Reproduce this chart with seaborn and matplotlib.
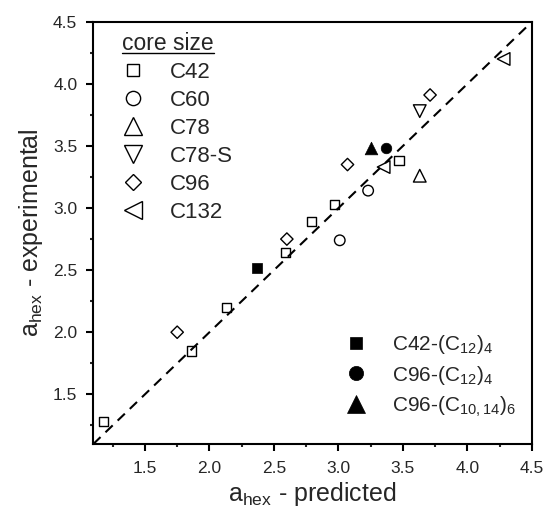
import matplotlib
matplotlib.use("Agg")
import matplotlib.pyplot as plt
from matplotlib.lines import Line2D
from matplotlib.ticker import MultipleLocator
import pandas as pd
import seaborn as sns

# open symbols: core sizes (predicted, experimental)
c42_pred = [1.18, 1.86, 2.13, 2.59, 2.79, 2.97, 3.47]
c42_exp = [1.28, 1.85, 2.20, 2.64, 2.89, 3.03, 3.38]
c60_pred = [3.01, 3.23]
c60_exp = [2.74, 3.14]
c78_pred = [3.63]
c78_exp = [3.26]
c78s_pred = [3.63]
c78s_exp = [3.78]
c96_pred = [1.75, 2.60, 3.07, 3.71]
c96_exp = [2.00, 2.75, 3.35, 3.91]
c132_pred = [3.35, 4.28]
c132_exp = [3.33, 4.20]

# filled symbols: substituted compounds
c42_c12_pred, c42_c12_exp = [2.37], [2.52]
c96_c12_pred, c96_c12_exp = [3.37], [3.48]
c96_c1014_pred, c96_c1014_exp = [3.25], [3.48]

core_labels = ["C42", "C60", "C78", "C78-S", "C96", "C132"]
filled_labels = [r"C42-(C$_\mathregular{12}$)$_\mathregular{4}$",
                 r"C96-(C$_\mathregular{12}$)$_\mathregular{4}$",
                 r"C96-(C$_\mathregular{10,14}$)$_\mathregular{6}$"]

sns.set_style("ticks")
plt.rcParams["font.family"] = ["Liberation Sans", "DejaVu Sans"]
plt.rcParams["mathtext.fontset"] = "custom"
plt.rcParams["mathtext.rm"] = "Liberation Sans"

open_series = [
    (c42_pred, c42_exp, "s", 6.7),
    (c60_pred, c60_exp, "o", 7.6),
    (c78_pred, c78_exp, "^", 9.1),
    (c78s_pred, c78s_exp, "v", 9.1),
    (c96_pred, c96_exp, "D", 6.3),
    (c132_pred, c132_exp, "<", 9.1),
]
filled_series = [
    (c42_c12_pred, c42_c12_exp, "s", 6.7),
    (c96_c12_pred, c96_c12_exp, "o", 7.6),
    (c96_c1014_pred, c96_c1014_exp, "^", 9.1),
]

fig = plt.figure(figsize=(5.48, 5.12), dpi=100)
ax = fig.add_axes([0.1703, 0.1328, 0.8005, 0.8248])

lim = (1.1, 4.5)
ax.plot(lim, lim, color="black", lw=1.5, ls=(0, (4.8, 3.3)), zorder=1)

for px, py, m, ms in open_series:
    df = pd.DataFrame({"pred": px, "exp": py})
    sns.scatterplot(data=df, x="pred", y="exp", marker=m, s=ms ** 2,
                    facecolors="none", edgecolor="black", linewidth=1.0,
                    ax=ax, zorder=3)
for px, py, m, ms in filled_series:
    df = pd.DataFrame({"pred": px, "exp": py})
    sns.scatterplot(data=df, x="pred", y="exp", marker=m, s=ms ** 2,
                    color="black", edgecolor="black", linewidth=0.5,
                    ax=ax, zorder=3)

ax.set_xlim(lim)
ax.set_ylim(lim)
ax.xaxis.set_major_locator(MultipleLocator(0.5))
ax.yaxis.set_major_locator(MultipleLocator(0.5))
ax.xaxis.set_minor_locator(MultipleLocator(0.25))
ax.yaxis.set_minor_locator(MultipleLocator(0.25))
ax.tick_params(which="major", direction="out", length=5, width=1.5,
               labelsize=12.5, color="black")
ax.tick_params(axis="x", which="major", pad=7)
ax.tick_params(axis="y", which="major", pad=6.5)
ax.tick_params(which="minor", direction="out", length=2.5, width=1.5)
for sp in ax.spines.values():
    sp.set_linewidth(1.5)
    sp.set_color("black")

ax.set_xlabel(r"a$_\mathregular{hex}$ - predicted", fontsize=18, labelpad=3)
ax.set_ylabel(r"a$_\mathregular{hex}$ - experimental", fontsize=18, labelpad=6)

scale = 1.35
h1 = [Line2D([], [], ls="none", marker=m, ms=ms * scale, mfc="none",
             mec="black", mew=1.0) for _, _, m, ms in open_series]
leg1 = ax.legend(h1, core_labels, title="core size", loc="upper left",
                 bbox_to_anchor=(0.066, 0.975), frameon=False, fontsize=16,
                 title_fontsize=16.5, handlelength=1.0, handletextpad=1.16,
                 labelspacing=0.31, borderpad=0, borderaxespad=0,
                 alignment="left")
ax.add_artist(leg1)

h2 = [Line2D([], [], ls="none", marker=m, ms=ms * scale, mfc="black",
             mec="black", mew=0.5) for _, _, m, ms in filled_series]
ax.legend(h2, filled_labels, loc="upper left", bbox_to_anchor=(0.575, 0.263),
          frameon=False, fontsize=15, handlelength=1.0, handletextpad=1.23,
          labelspacing=0.37, borderpad=0, borderaxespad=0)

# underline the legend title
fig.canvas.draw()
bb = leg1.get_title().get_window_extent()
inv = fig.transFigure.inverted()
(x0, y0), (x1, _) = inv.transform([(bb.x0, bb.y0 + 2.5), (bb.x1, bb.y0)])
fig.add_artist(Line2D([x0, x1], [y0, y0], color="black", lw=1.0,
                      transform=fig.transFigure))

fig.savefig("out.png", dpi=100)
